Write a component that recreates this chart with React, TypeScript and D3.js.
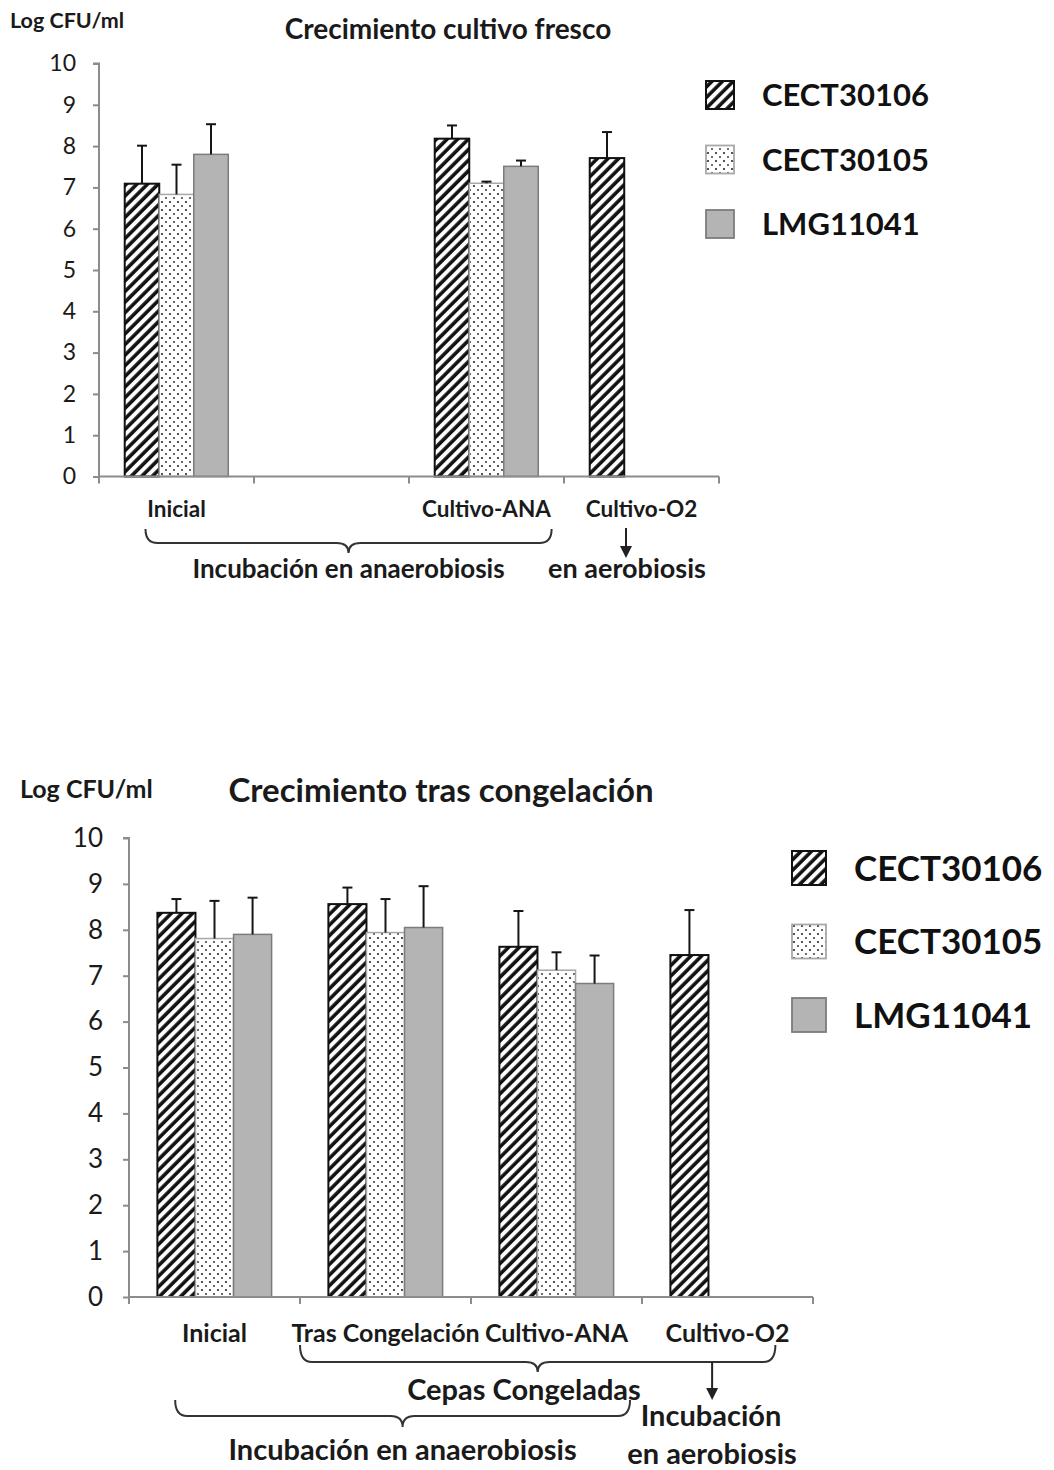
import * as d3 from "d3";
import React, { useEffect, useRef } from "react";

// series (strains) shown in both charts
const strains = ["CECT30106", "CECT30105", "LMG11041"];
const yTicks = [0, 1, 2, 3, 4, 5, 6, 7, 8, 9, 10];

// chart 1: fresh culture (second category is an empty slot)
const freshCats = ["Inicial", "gap", "Cultivo-ANA", "Cultivo-O2"];
const freshLabels = ["Inicial", "", "Cultivo-ANA", "Cultivo-O2"];
const fresh30106 = [7.09, null, 8.18, 7.71];
const fresh30105 = [6.83, null, 7.1, null];
const freshLMG = [7.8, null, 7.51, null];
const freshErr30106 = [0.92, null, 0.32, 0.63];
const freshErr30105 = [0.72, null, 0.04, null];
const freshErrLMG = [0.73, null, 0.14, null];

// chart 2: after freezing
const frozenCats = ["Inicial", "Tras Congelación", "Cultivo-ANA", "Cultivo-O2"];
const frozen30106 = [8.37, 8.56, 7.63, 7.45];
const frozen30105 = [7.81, 7.94, 7.12, null];
const frozenLMG = [7.9, 8.05, 6.83, null];
const frozenErr30106 = [0.3, 0.36, 0.78, 0.98];
const frozenErr30105 = [0.82, 0.73, 0.39, null];
const frozenErrLMG = [0.8, 0.9, 0.61, null];

const FONT = "Lato, 'Open Sans', sans-serif";
const AXIS = "#8c8c8c";

const seriesStyle = [
  { fill: "url(#hatch)", stroke: "#111", sw: 2 },
  { fill: "url(#dots)", stroke: "#a8a8a8", sw: 1.5 },
  { fill: "#b4b4b4", stroke: "#7c7c7c", sw: 1.5 },
];

// horizontal curly brace, ends up, tip down
function bracePath(x1, x2, yTop, yMid, yTip) {
  const xm = (x1 + x2) / 2;
  const r = 12;
  return `M${x1},${yTop} Q${x1},${yMid} ${x1 + r},${yMid} L${xm - r},${yMid} Q${xm},${yMid} ${xm},${yTip} Q${xm},${yMid} ${xm + r},${yMid} L${x2 - r},${yMid} Q${x2},${yMid} ${x2},${yTop}`;
}

function drawChart(svg, o) {
  const g = svg.append("g");
  const x = d3.scaleBand().domain(o.cats).range([o.left, o.right]).padding(0);
  const bw = x.bandwidth();
  const inner = d3.scaleBand().domain(strains).range([bw * 0.166, bw * 0.834]).padding(0);
  const y = d3.scaleLinear().domain([0, 10]).range([o.bottom, o.top]);

  // bars
  o.values.forEach((vals, s) => {
    const st = seriesStyle[s];
    g.append("g")
      .selectAll("rect")
      .data(vals.map((v, i) => ({ v, i })).filter((d) => d.v != null))
      .enter()
      .append("rect")
      .attr("x", (d) => x(o.cats[d.i]) + inner(strains[s]))
      .attr("y", (d) => y(d.v))
      .attr("width", inner.bandwidth())
      .attr("height", (d) => y(0) - y(d.v))
      .attr("fill", st.fill)
      .attr("stroke", st.stroke)
      .attr("stroke-width", st.sw);
  });

  // error bars (upper only)
  o.values.forEach((vals, s) => {
    const eg = g.append("g").attr("stroke", "#151515").attr("stroke-width", 2);
    vals.forEach((v, i) => {
      if (v == null) return;
      const e = o.errs[s][i];
      const cx = x(o.cats[i]) + inner(strains[s]) + inner.bandwidth() / 2;
      eg.append("line").attr("x1", cx).attr("x2", cx).attr("y1", y(v)).attr("y2", y(v + e));
      eg.append("line").attr("x1", cx - 5).attr("x2", cx + 5).attr("y1", y(v + e)).attr("y2", y(v + e));
    });
  });

  // y axis
  const yAxis = g.append("g")
    .attr("transform", `translate(${o.left},0)`)
    .call(d3.axisLeft(y).tickValues(yTicks).tickSize(6).tickPadding(o.tickPad));
  yAxis.select(".domain").attr("stroke", AXIS).attr("stroke-width", 2).attr("d", `M-6,${y(10)}H0V${y(0)}`);
  yAxis.selectAll(".tick line").attr("stroke", AXIS).attr("stroke-width", 2);
  yAxis.selectAll(".tick text")
    .attr("font-family", FONT)
    .attr("font-size", o.tickSize)
    .attr("fill", "#1a1a1a");

  // x axis with ticks between categories
  const xa = g.append("g").attr("stroke", AXIS).attr("stroke-width", 2);
  xa.append("line").attr("x1", o.left).attr("x2", o.right).attr("y1", y(0)).attr("y2", y(0));
  const bounds = o.cats.map((c) => x(c)).concat([o.right]);
  xa.selectAll("line.tk")
    .data(bounds)
    .enter()
    .append("line")
    .attr("class", "tk")
    .attr("x1", (d) => d)
    .attr("x2", (d) => d)
    .attr("y1", y(0))
    .attr("y2", y(0) + 7);

  g.selectAll("text.cat")
    .data(o.labels)
    .enter()
    .append("text")
    .attr("class", "cat")
    .attr("x", (d, i) => x(o.cats[i]) + bw / 2)
    .attr("y", o.labelY)
    .attr("text-anchor", "middle")
    .attr("font-family", FONT)
    .attr("font-weight", 700)
    .attr("font-size", o.labelSize)
    .attr("fill", "#1a1a1a")
    .text((d) => d);

  return { x, y, bw };
}

function drawLegend(svg, lx, ly, size, gap, fontSize) {
  const lg = svg.append("g").attr("transform", `translate(${lx},${ly})`);
  strains.forEach((s, i) => {
    const st = seriesStyle[i];
    lg.append("rect")
      .attr("x", 0)
      .attr("y", i * gap - size / 2)
      .attr("width", size)
      .attr("height", size)
      .attr("fill", st.fill)
      .attr("stroke", st.stroke)
      .attr("stroke-width", i === 0 ? 2 : 1.8);
    lg.append("text")
      .attr("x", size + 28)
      .attr("y", i * gap)
      .attr("dy", "0.36em")
      .attr("font-family", FONT)
      .attr("font-weight", 700)
      .attr("font-size", fontSize)
      .attr("fill", "#111")
      .text(s);
  });
}

function addText(svg, txt, x, y, size, weight = 700, anchor = "middle") {
  svg.append("text")
    .attr("x", x)
    .attr("y", y)
    .attr("text-anchor", anchor)
    .attr("font-family", FONT)
    .attr("font-weight", weight)
    .attr("font-size", size)
    .attr("fill", "#1a1a1a")
    .text(txt);
}

function arrow(svg, x, y1, y2) {
  svg.append("line")
    .attr("x1", x).attr("x2", x).attr("y1", y1).attr("y2", y2 - 10)
    .attr("stroke", "#222").attr("stroke-width", 2);
  svg.append("path")
    .attr("d", `M${x - 6},${y2 - 12}L${x + 6},${y2 - 12}L${x},${y2}Z`)
    .attr("fill", "#222");
}

export default function App() {
  const svgRef = useRef(null);

  useEffect(() => {
    const svg = d3.select(svgRef.current);
    svg.selectAll("*").remove();

    const defs = svg.append("defs");
    const hatch = defs.append("pattern")
      .attr("id", "hatch")
      .attr("patternUnits", "userSpaceOnUse")
      .attr("width", 7.5)
      .attr("height", 7.5)
      .attr("patternTransform", "rotate(45)");
    hatch.append("rect").attr("width", 7.5).attr("height", 7.5).attr("fill", "#fff");
    hatch.append("line").attr("x1", 2).attr("x2", 2).attr("y1", 0).attr("y2", 7.5)
      .attr("stroke", "#111").attr("stroke-width", 3.6);
    const dots = defs.append("pattern")
      .attr("id", "dots")
      .attr("patternUnits", "userSpaceOnUse")
      .attr("width", 8)
      .attr("height", 8);
    dots.append("rect").attr("width", 8).attr("height", 8).attr("fill", "#fff");
    dots.append("circle").attr("cx", 2).attr("cy", 2).attr("r", 1.1).attr("fill", "#2a2a2a");
    dots.append("circle").attr("cx", 6).attr("cy", 6).attr("r", 1.1).attr("fill", "#4a4a4a");

    // ---- chart 1
    const c1 = drawChart(svg, {
      cats: freshCats,
      labels: freshLabels,
      values: [fresh30106, fresh30105, freshLMG],
      errs: [freshErr30106, freshErr30105, freshErrLMG],
      left: 99, right: 719, top: 63.5, bottom: 476.5,
      tickSize: 23, tickPad: 17, labelY: 517, labelSize: 22.5,
    });
    addText(svg, "Log CFU/ml", 10, 28, 21.5, 700, "start");
    addText(svg, "Crecimiento cultivo fresco", 448, 39, 28);
    drawLegend(svg, 706, 95, 28, 64.5, 31);
    const b1a = c1.x("Inicial") + c1.bw * 0.3;
    const b1b = c1.x("Cultivo-ANA") + c1.bw * 0.92;
    svg.append("path")
      .attr("d", bracePath(b1a, b1b, 529, 543, 553))
      .attr("fill", "none").attr("stroke", "#333").attr("stroke-width", 2);
    addText(svg, "Incubación en anaerobiosis", (b1a + b1b) / 2, 578, 26);
    arrow(svg, c1.x("Cultivo-O2") + c1.bw * 0.4, 528, 558);
    addText(svg, "en aerobiosis", 627, 578, 27);

    // ---- chart 2
    const c2 = drawChart(svg, {
      cats: frozenCats,
      labels: frozenCats,
      values: [frozen30106, frozen30105, frozenLMG],
      errs: [frozenErr30106, frozenErr30105, frozenErrLMG],
      left: 129, right: 813, top: 838, bottom: 1297,
      tickSize: 26, tickPad: 20, labelY: 1342, labelSize: 25,
    });
    addText(svg, "Log CFU/ml", 20, 798, 25, 700, "start");
    addText(svg, "Crecimiento tras congelación", 441, 802, 33, 700);
    drawLegend(svg, 792, 868, 34, 73.5, 35);
    const b2a = c2.x("Tras Congelación") + c2.bw * 0.0;
    const b2b = c2.x("Cultivo-O2") + c2.bw * 0.78;
    svg.append("path")
      .attr("d", bracePath(b2a, b2b, 1345, 1362, 1372))
      .attr("fill", "none").attr("stroke", "#333").attr("stroke-width", 2);
    addText(svg, "Cepas Congeladas", 524, 1400, 29);
    const b3a = c2.x("Inicial") + c2.bw * 0.27;
    const b3b = c2.x("Cultivo-ANA") + c2.bw * 0.93;
    svg.append("path")
      .attr("d", bracePath(b3a, b3b, 1400, 1416, 1427))
      .attr("fill", "none").attr("stroke", "#333").attr("stroke-width", 2);
    addText(svg, "Incubación en anaerobiosis", (b3a + b3b) / 2, 1460, 29);
    arrow(svg, c2.x("Cultivo-O2") + c2.bw * 0.41, 1362, 1400);
    addText(svg, "Incubación", 711, 1426, 29);
    addText(svg, "en aerobiosis", 712, 1464, 29);
  }, []);

  return (
    <div style={{ position: "absolute", left: 0, top: 0 }}>
      <svg ref={svgRef} width={1054} height={1470} style={{ display: "block", background: "#fff" }} />
    </div>
  );
}
